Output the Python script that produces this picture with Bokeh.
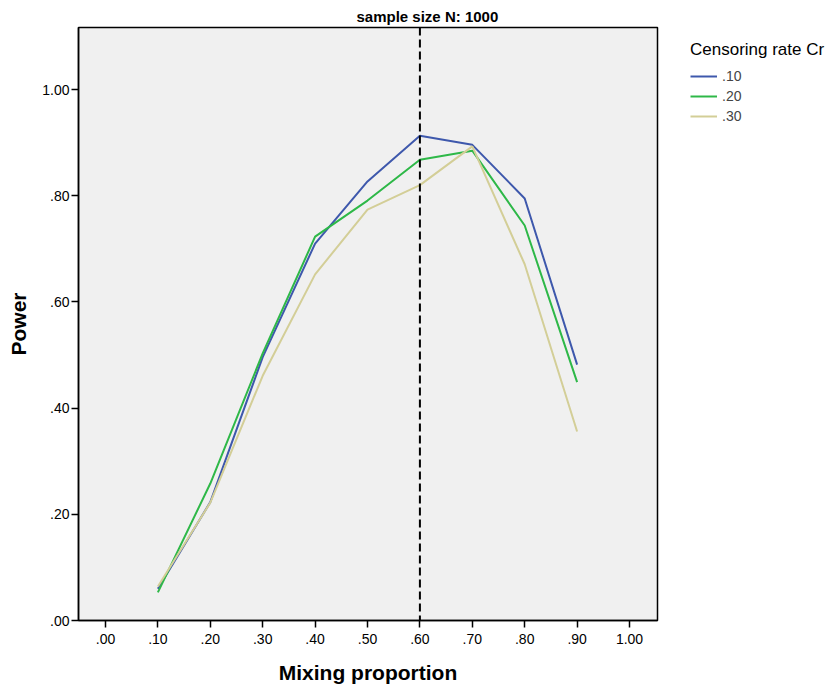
from bokeh.plotting import figure
from bokeh.models import (Range1d, FixedTicker, Span, Legend, LegendItem, Title)
from bokeh.embed import file_html
from bokeh.resources import INLINE

# Data
mixing = [0.1, 0.2, 0.3, 0.4, 0.5, 0.6, 0.7, 0.8, 0.9]
power_cr10 = [0.060, 0.223, 0.496, 0.710, 0.827, 0.913, 0.896, 0.795, 0.482]
power_cr20 = [0.053, 0.258, 0.503, 0.723, 0.791, 0.868, 0.885, 0.744, 0.449]
power_cr30 = [0.064, 0.222, 0.461, 0.652, 0.774, 0.820, 0.893, 0.671, 0.356]
series_labels = [".10", ".20", ".30"]
x_ticks = [0.0, 0.1, 0.2, 0.3, 0.4, 0.5, 0.6, 0.7, 0.8, 0.9, 1.0]
x_tick_labels = [".00", ".10", ".20", ".30", ".40", ".50", ".60", ".70", ".80", ".90", "1.00"]
y_ticks = [0.0, 0.2, 0.4, 0.6, 0.8, 1.0]
y_tick_labels = [".00", ".20", ".40", ".60", ".80", "1.00"]
ref_x = 0.6
title_text = "sample size N: 1000"
legend_title = "Censoring rate Cr"

FONT = "Liberation Sans"
colors = ["#3E58AC", "#2EB848", "#D3CE97"]

p = figure(frame_width=579, frame_height=593, output_backend="svg", toolbar_location=None,
           x_range=Range1d(-0.0515, 1.0534), y_range=Range1d(0, 1.117),
           min_border_left=78, min_border_right=183, min_border_top=27,
           min_border_bottom=70)
p.background_fill_color = "#F0F0F0"
p.border_fill_color = "white"
p.outline_line_color = "black"
p.outline_line_width = 1.5
p.xgrid.visible = False
p.ygrid.visible = False

p.title = Title(text=title_text, align="left", offset=278, text_font=FONT,
                text_font_size="15px", text_font_style="bold", text_color="black",
                standoff=5)

for ax in (p.xaxis[0], p.yaxis[0]):
    ax.axis_line_color = "black"
    ax.axis_line_width = 1.5
    ax.major_tick_line_color = "black"
    ax.major_tick_line_width = 1.5
    ax.major_tick_out = 7
    ax.major_tick_in = 0
    ax.minor_tick_line_color = None
    ax.major_label_text_font = FONT
    ax.major_label_text_font_size = "14px"
    ax.major_label_text_color = "black"
    ax.axis_label_text_font = FONT
    ax.axis_label_text_font_size = "21px"
    ax.axis_label_text_font_style = "bold"
    ax.axis_label_text_color = "black"

p.xaxis[0].ticker = FixedTicker(ticks=x_ticks)
p.xaxis[0].major_label_overrides = {t: l for t, l in zip(x_ticks, x_tick_labels)}
p.yaxis[0].ticker = FixedTicker(ticks=y_ticks)
p.yaxis[0].major_label_overrides = {t: l for t, l in zip(y_ticks, y_tick_labels)}
p.xaxis[0].axis_label = "Mixing proportion"
p.yaxis[0].axis_label = "Power"
p.xaxis[0].major_label_standoff = 6
p.xaxis[0].axis_label_standoff = 14
p.yaxis[0].major_label_standoff = 2
p.yaxis[0].axis_label_standoff = 9

renderers = []
for ys, c in zip([power_cr10, power_cr20, power_cr30], colors):
    r = p.line(mixing, ys, line_color=c, line_width=2)
    renderers.append(r)

p.add_layout(Span(location=ref_x, dimension="height", line_color="black",
                  line_width=2, line_dash="8 4"))

legend = Legend(items=[LegendItem(label=l, renderers=[r]) for l, r in zip(series_labels, renderers)],
                title=legend_title, title_text_font=FONT, title_text_font_size="17px",
                title_text_font_style="normal", title_text_color="black", title_standoff=6,
                location=(33, 494), padding=0, margin=0, spacing=0,
                glyph_width=27, glyph_height=20, label_height=20, label_standoff=5,
                label_text_font=FONT, label_text_font_size="14px",
                border_line_color=None, background_fill_alpha=0)
p.add_layout(legend, "right")

open("out.html", "w").write(file_html(p, INLINE))
